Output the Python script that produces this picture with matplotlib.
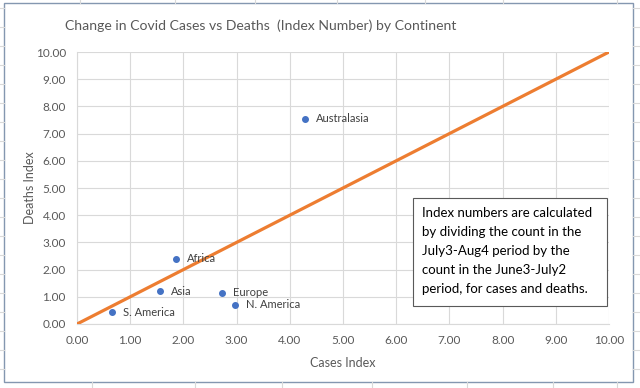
import matplotlib.pyplot as plt
from matplotlib.patches import Rectangle
from matplotlib.lines import Line2D

# data
continents = ["Australasia", "Africa", "Asia", "Europe", "N. America", "S. America"]
cases_index = [4.29, 1.86, 1.56, 2.73, 2.97, 0.66]
deaths_index = [7.54, 2.39, 1.21, 1.14, 0.70, 0.44]
ref_line = [0, 10]
ticks = [0, 1, 2, 3, 4, 5, 6, 7, 8, 9, 10]

note = ("Index numbers are calculated\n"
        "by dividing the count in the\n"
        "July3-Aug4 period by the\n"
        "count in the June3-July2\n"
        "period, for cases and deaths.")

grey_text = "#595959"
plt.rcParams['font.family'] = ['Lato', 'DejaVu Sans']

fig = plt.figure(figsize=(6.4, 3.88), dpi=100)
W, H = 640, 388

# spreadsheet cells behind the chart
for yy in range(8, H, 19):
    fig.add_artist(Line2D([0, 4 / W], [1 - yy / H] * 2, color="#d9d9d9", lw=0.8))
    fig.add_artist(Line2D([633 / W, 1], [1 - yy / H] * 2, color="#d9d9d9", lw=0.8))
for xx in [80, 175, 255, 337, 425, 503, 617]:
    fig.add_artist(Line2D([xx / W] * 2, [1 - 3 / H, 1], color="#d9d9d9", lw=0.8))
for xx in [92, 195, 282, 372, 467, 553, 617]:
    fig.add_artist(Line2D([xx / W] * 2, [0, 1 - 382 / H], color="#d9d9d9", lw=0.8))

# chart frame
fig.add_artist(Rectangle((4 / W, 1 - 382 / H), 629 / W, 379 / H,
                         facecolor="white", edgecolor="#8497b0", lw=1.0, zorder=0))

ax = fig.add_axes([77 / W, 1 - 324 / H, 532 / W, 272 / H])
ax.set_xlim(0, 10)
ax.set_ylim(0, 10)
ax.set_xticks(ticks)
ax.set_yticks(ticks)
ax.set_xticklabels([f"{t:.2f}" for t in ticks])
ax.set_yticklabels([f"{t:.2f}" for t in ticks])
ax.grid(True, color="#d9d9d9", lw=0.8)
ax.set_axisbelow(True)
for s in ["top", "right"]:
    ax.spines[s].set_visible(False)
for s in ["left", "bottom"]:
    ax.spines[s].set_color("#d9d9d9")
ax.tick_params(length=0, labelsize=8.5, colors=grey_text, pad=8)
ax.patch.set_alpha(0)

ax.plot(ref_line, ref_line, color="#ed7d31", lw=2.3, solid_capstyle="round", zorder=3)
ax.scatter(cases_index, deaths_index, s=16, color="#4472c4", zorder=4)
for name, cx, dy in zip(continents, cases_index, deaths_index):
    ax.annotate(name, (cx, dy), xytext=(8, 0), textcoords="offset points",
                va="center", ha="left", fontsize=8, color="#404040", zorder=5)

ax.set_xlabel("Cases Index", fontsize=9, color=grey_text, labelpad=8)
ax.set_ylabel("Deaths Index", fontsize=9, color=grey_text, labelpad=0)

fig.text(261 / W, 1 - 26 / H, "Change in Covid Cases vs Deaths  (Index Number) by Continent",
         ha="center", va="center", fontsize=10.1, color=grey_text)

# note box
fig.add_artist(Rectangle((413 / W, 1 - 306 / H), 194 / W, 108 / H,
                         facecolor="white", edgecolor="#595959", lw=0.8, zorder=6))
fig.text(422 / W, 1 - 251 / H, note, ha="left", va="center", fontsize=9.5,
         color="black", linespacing=1.7, zorder=7)

fig.savefig("out.png", dpi=100)
